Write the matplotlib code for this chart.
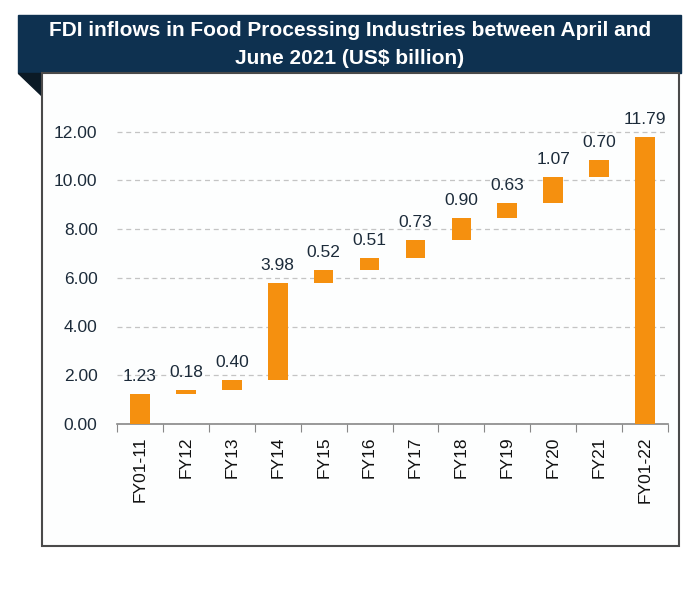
import numpy as np
import matplotlib.pyplot as plt
from matplotlib.patches import Rectangle, Polygon

# data (US$ billion)
categories = ['FY01-11', 'FY12', 'FY13', 'FY14', 'FY15', 'FY16', 'FY17',
              'FY18', 'FY19', 'FY20', 'FY21', 'FY01-22']
increments = [1.23, 0.18, 0.40, 3.98, 0.52, 0.51, 0.73, 0.90, 0.63, 1.07, 0.70]
total = 11.79
y_ticks = [0, 2, 4, 6, 8, 10, 12]

title = 'FDI inflows in Food Processing Industries between April and\nJune 2021 (US$ billion)'

plt.rcParams['font.family'] = ['Liberation Sans', 'DejaVu Sans']

W, H = 686, 591
fig = plt.figure(figsize=(W / 100, H / 100), dpi=100)
fig.patch.set_facecolor('white')


def fx(px):
    return px / W


def fy(py):
    return 1 - py / H


# header banner, fold triangle and frame box
navy = '#0e3150'
fig.patches.append(Rectangle((fx(18), fy(73)), fx(681 - 18), fy(15) - fy(73),
                             transform=fig.transFigure, color=navy, zorder=0))
fig.patches.append(Polygon([(fx(18), fy(73)), (fx(42), fy(73)), (fx(42), fy(96))],
                           closed=True, transform=fig.transFigure,
                           color='#0b1a26', zorder=0))
fig.patches.append(Rectangle((fx(42), fy(546)), fx(679 - 42), fy(73) - fy(546),
                             transform=fig.transFigure, facecolor='#fdfefe',
                             edgecolor='#4a4a4a', lw=1.5, zorder=0))
fig.text(fx(350), fy(44), title, ha='center', va='center', color='white',
         fontsize=15, fontweight='bold', linespacing=1.6,
         family=['Liberation Sans Narrow', 'Liberation Sans', 'DejaVu Sans'])

ax = fig.add_axes([fx(117), fy(424), fx(668 - 117), fy(112) - fy(424)])
ax.set_facecolor('none')
ax.set_zorder(2)

x = np.arange(len(categories))
cum = np.cumsum(increments)
bottoms = np.concatenate([cum - np.array(increments), [0]])
heights = np.concatenate([increments, [total]])
bar_color = '#f5900f'

ax.bar(x, heights, bottom=bottoms, width=0.43, color=bar_color, zorder=3)

for xi, b, h in zip(x, bottoms, heights):
    ax.annotate(f'{h:.2f}', xy=(xi, b + h), xytext=(0, 7),
                textcoords='offset points', ha='center', va='bottom',
                fontsize=12.5, color='#1c2b3a')

ax.set_xlim(-0.5, len(categories) - 0.5)
ax.set_ylim(0, 12.8)
ax.set_yticks(y_ticks)
ax.set_yticklabels([f'{v:.2f}' for v in y_ticks], fontsize=12.5, color='#1c2b3a')
ax.tick_params(axis='y', length=0, pad=14)

# ticks at category boundaries, labels at centres
ax.set_xticks(np.arange(-0.5, len(categories)), minor=False)
ax.set_xticklabels([])
ax.set_xticks(x, minor=True)
ax.set_xticklabels(categories, minor=True, rotation=90, fontsize=12.5,
                   color='#111111')
ax.tick_params(axis='x', which='major', length=6, color='#888888', direction='out')
ax.tick_params(axis='x', which='minor', length=0, pad=9)

ax.grid(axis='y', linestyle=(0, (4, 3)), color='#c4c4c4', lw=0.9, zorder=0)
for s in ['top', 'right', 'left']:
    ax.spines[s].set_visible(False)
ax.spines['bottom'].set_color('#888888')
ax.spines['bottom'].set_linewidth(1.2)

fig.savefig('out.png', dpi=100)
